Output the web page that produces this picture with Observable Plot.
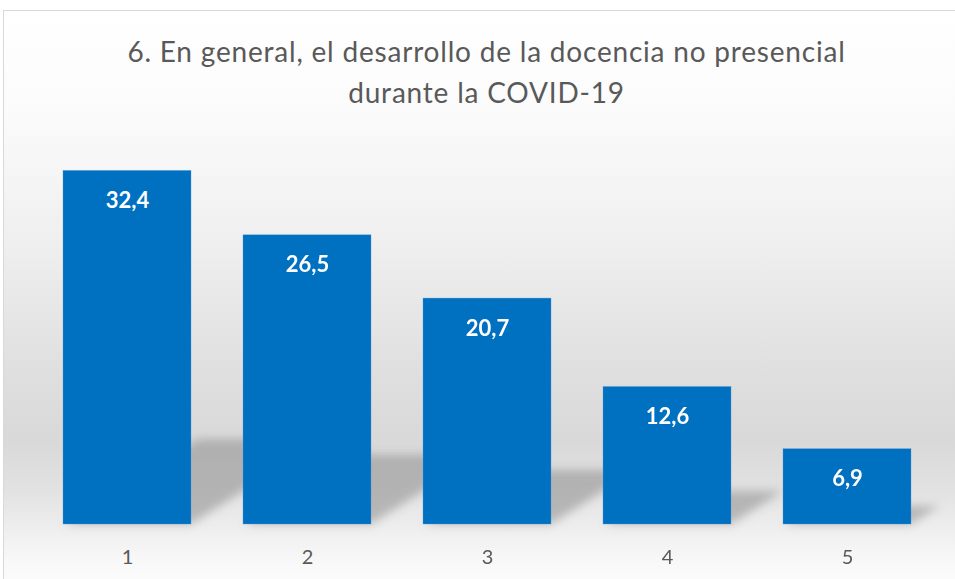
<!DOCTYPE html>
<html>
<head>
<meta charset="utf-8">
<script src="https://cdn.jsdelivr.net/npm/d3@7"></script>
<script src="https://cdn.jsdelivr.net/npm/@observablehq/plot@0.6"></script>
<style>
  html, body { margin: 0; padding: 0; background: #fff; overflow: hidden; }
  #wrap { position: relative; width: 955px; height: 579px; overflow: hidden; }
  #frame {
    position: absolute; left: 3px; top: 10px; width: 980px; height: 620px;
    border: 1px solid #d9d9d9; box-sizing: border-box;
    background: linear-gradient(to bottom, #ffffff 0px, #fbfbfb 100px, #eeeeee 240px, #dedede 370px, #d9d9d9 430px, #e2e2e2 480px, #efefef 520px, #f8f8f8 550px, #ffffff 590px);
  }
  #title {
    position: absolute; left: 0; top: 31px; width: 973px; text-align: center;
    font-family: Lato, sans-serif; font-size: 28px; letter-spacing: 0.8px; line-height: 41px; color: #595959;
  }
  #chart { position: absolute; left: 0; top: 0; }
</style>
</head>
<body>
<div id="wrap">
  <div id="frame"></div>
  <div id="title">6. En general, el desarrollo de la docencia no presencial<br>durante la COVID-19</div>
  <div id="chart"></div>
</div>
<script>
const categories = ["1", "2", "3", "4", "5"];
const values = [32.4, 26.5, 20.7, 12.6, 6.9];
const labels = ["32,4", "26,5", "20,7", "12,6", "6,9"];

const data = categories.map((c, i) => ({cat: c, value: values[i], label: labels[i]}));
const shadowRatio = 0.24;

const chart = Plot.plot({
  width: 955,
  height: 579,
  marginLeft: 36,
  marginRight: 17,
  marginTop: 142,
  marginBottom: 55,
  style: {background: "transparent", color: "#595959", fontFamily: "Lato, sans-serif"},
  x: {domain: categories, paddingInner: 0.29, paddingOuter: 0.145, label: null},
  y: {domain: [0, 35], axis: null},
  marks: [
    Plot.barY(data, {x: "cat", y: d => d.value * shadowRatio, fill: "#8c8c8c", fillOpacity: 0.55, insetLeft: 2}),
    Plot.barY(data, {x: "cat", y: "value", fill: "#0070C0", stroke: "#5b9bd5", strokeWidth: 0.6, strokeOpacity: 0.6}),
    Plot.text(data, {x: "cat", y: "value", text: "label", dy: 30, fill: "white", fontWeight: "bold", fontSize: 22}),
    Plot.axisX({tickSize: 0, tickPadding: 25, fontSize: 20, fill: "#595959", label: null})
  ]
});

// shadows: skew and blur the first bar group
const ns = "http://www.w3.org/2000/svg";
const defs = document.createElementNS(ns, "defs");
defs.innerHTML = '<filter id="shblur" x="-50%" y="-50%" width="200%" height="200%"><feGaussianBlur stdDeviation="5"/></filter>';
chart.insertBefore(defs, chart.firstChild);
const groups = chart.querySelectorAll('g[aria-label="bar"]');
const shadowGroup = groups[0];
shadowGroup.setAttribute("filter", "url(#shblur)");
const t = -1.57;
shadowGroup.querySelectorAll("rect").forEach(r => {
  const y = +r.getAttribute("y");
  const h = +r.getAttribute("height");
  const base = y + h;
  r.setAttribute("transform", `matrix(1,0,${t},1,${-t * base},0)`);
});

document.getElementById("chart").appendChild(chart);
</script>
</body>
</html>
